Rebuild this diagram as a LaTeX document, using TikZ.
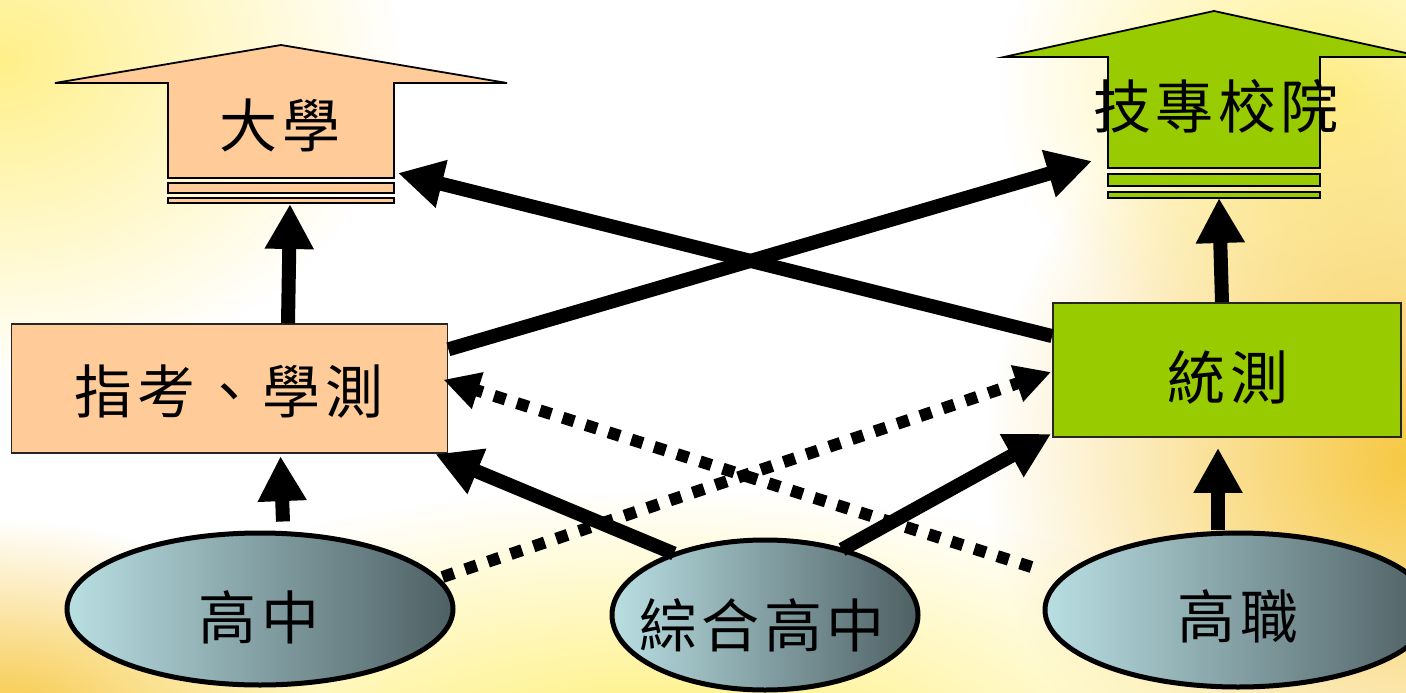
\documentclass[tikz,border=0pt]{standalone}
\usepackage{fontspec}
\newfontfamily\cjk[LetterSpace=8]{Noto Sans CJK TC}
\usetikzlibrary{arrows.meta,shapes.geometric,calc,fadings}
\definecolor{peach}{HTML}{FFCC99}
\definecolor{lime}{HTML}{99CC00}
\definecolor{ellL}{HTML}{B9DFE3}
\definecolor{ellR}{HTML}{4E6064}
\definecolor{glowA}{HTML}{FFF08A}
\definecolor{glowB}{HTML}{F7C843}
\definecolor{glowC}{HTML}{FFEF6E}
\tikzfading[name=glow, inner color=transparent!0, outer color=transparent!100]
\tikzset{
  txt/.style={font=\cjk\fontsize{58pt}{60pt}\selectfont, inner sep=0pt},
  boxnode/.style={draw=black!85, line width=1.8pt, inner sep=0pt},
  ellnode/.style={ellipse, draw=black, line width=5pt, shade, left color=ellL, right color=ellR, inner sep=0pt},
  house/.style={draw=black, line width=1.8pt, line join=miter},
  bigarrow/.style={line width=14pt, -{Triangle[length=45pt,width=46pt]}},
  dotarrow/.style={line width=12pt, dash pattern=on 12pt off 12pt, -{Triangle[length=36pt,width=36pt]}},
}
\begin{document}
\begin{tikzpicture}[x=1pt,y=-1pt]
\useasboundingbox (0,0) rectangle (1406,693);
\clip (0,0) rectangle (1406,693);
% background
\fill[white] (0,0) rectangle (1406,693);
\fill[glowA, path fading=glow] (0,60) ellipse [x radius=400, y radius=320];
\fill[glowA, path fading=glow] (1320,90) ellipse [x radius=320, y radius=260];
\fill[glowB, path fading=glow] (1406,460) ellipse [x radius=420, y radius=420];
\fill[glowC, path fading=glow] (650,770) ellipse [x radius=700, y radius=280];
\fill[glowB, path fading=glow] (0,720) ellipse [x radius=320, y radius=200];

% house: 大學
\draw[house, fill=peach] (55,83) -- (281,45) -- (507,83) -- (394,83) -- (394,178) -- (168,178) -- (168,83) -- cycle;
\draw[house, fill=peach] (168,183) rectangle (394,193);
\draw[house, fill=peach] (168,198) rectangle (394,203);
\coordinate (dxb) at (281,203);
\coordinate (dxr) at (394,178);
\node[txt] (dx) at (280,125) {大學};

% house: 技專校院
\draw[house, fill=lime] (1004,57) -- (1214,11) -- (1424,57) -- (1320,57) -- (1320,168) -- (1108,168) -- (1108,57) -- cycle;
\draw[house, fill=lime] (1108,174) rectangle (1320,186);
\draw[house, fill=lime] (1108,192) rectangle (1320,198);
\coordinate (jzb) at (1214,198);
\coordinate (jzl) at (1108,168);
\node[txt] (jz) at (1216,106) {技專校院};

% boxes
\node[boxnode, fill=peach, minimum width=436pt, minimum height=129pt] (zk) at (229.5,388.7) {};
\node[txt] (zkt) at (229,392) {指考、學測};
\node[boxnode, fill=lime, minimum width=348pt, minimum height=134pt] (tc) at (1227,370) {};
\node[txt] (tct) at (1228,377) {統測};

% ellipses
\node[ellnode, minimum width=386pt, minimum height=152pt] (gz) at (260,609) {};
\node[txt] (gzt) at (259,617) {高中};
\node[ellnode, minimum width=306pt, minimum height=150pt] (zh) at (765,615) {};
\node[txt] (zht) at (762,625) {綜合高中};
\node[ellnode, minimum width=386pt, minimum height=154pt] (gzh) at (1238,610) {};
\node[txt] (gzht) at (1238,616) {高職};

% solid arrows
\draw[bigarrow] ($(zk.north)+(58.5,0)$) -- ($(dxb)+(9,1)$);
\draw[bigarrow] ($(tc.north)+(-5,0)$) -- ($(jzb)+(5,0)$);
\draw[bigarrow] ($(gz.north)+(23,-9)$) -- ($(zk.south)+(51,2)$);
\draw[bigarrow] ($(gzh.north)+(-20,-1)$) -- ($(tc.south)+(-9,10)$);
\draw[bigarrow] ($(zk.north east)+(0,26)$) -- ($(jzl)+(-16,-7)$);
\draw[bigarrow] ($(tc.north west)+(0,34)$) -- ($(dxr)+(4,-5)$);
\draw[bigarrow] ($(zh.north)+(-91,16)$) -- ($(zk.south east)+(-13,0)$);
\draw[bigarrow] ($(zh.north)+(77,12)$) -- ($(tc.south west)+(-1,-4)$);

% dotted arrows
\draw[dotarrow] ($(gz.east)+(-13,-32)$) -- ($(tc.west)+(-1,2)$);
\draw[dotarrow] ($(gzh.west)+(-11,-43)$) -- ($(zk.east)+(-5,-9)$);
\end{tikzpicture}
\end{document}
